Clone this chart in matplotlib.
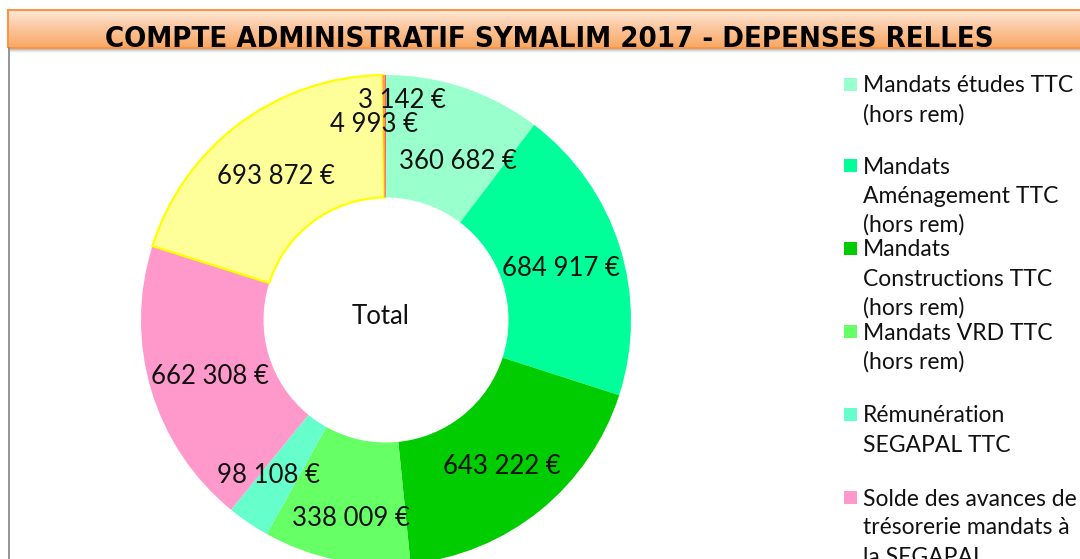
import numpy as np
import matplotlib
matplotlib.use('Agg')
import matplotlib.pyplot as plt
from matplotlib.patches import Rectangle
from matplotlib.colors import LinearSegmentedColormap

# ---------------- data ----------------
values = [360682, 684917, 643222, 338009, 98108, 662308, 693872, 4993, 3142]
colors = ['#99ffcc', '#00ff99', '#00cc00', '#66ff66', '#66ffcc', '#ff99cc',
          '#ffff99', '#ff9966', '#ff6633']
legend_labels = ["Mandats études TTC\n(hors rem)",
                 "Mandats\nAménagement TTC\n(hors rem)",
                 "Mandats\nConstructions TTC\n(hors rem)",
                 "Mandats VRD TTC\n(hors rem)",
                 "Rémunération\nSEGAPAL TTC",
                 "Solde des avances de\ntrésorerie mandats à\nla SEGAPAL"]
title = "COMPTE ADMINISTRATIF SYMALIM 2017 - DEPENSES RELLES"
center_text = "Total"

W, H = 1080, 559
fig = plt.figure(figsize=(W / 100, H / 100), dpi=100)
fig.patch.set_facecolor('white')

def fx(x):
    return x / W

def fy(y):
    return 1 - y / H

# ---------------- left frame line ----------------
fig.add_artist(plt.Line2D([fx(9), fx(9)], [fy(48), fy(H + 5)], color='#8c8c8c', lw=1.3))

# ---------------- title banner ----------------
for i, a in enumerate([0.10, 0.07, 0.05, 0.03]):
    fig.add_artist(Rectangle((fx(10), fy(49 + i + 1)), fx(1100), (i + 1) / H,
                             facecolor='black', alpha=a, edgecolor='none'))
tax = fig.add_axes([fx(8), fy(48), fx(1100), (48 - 10) / H])
grad = np.linspace(0, 1, 100).reshape(-1, 1)
cm = LinearSegmentedColormap.from_list('t', ['#fde9d9', '#fbc49a', '#f9a763'])
tax.imshow(grad, aspect='auto', cmap=cm, extent=[0, 1, 0, 1], origin='upper')
tax.set_xlim(0, 1)
tax.set_ylim(0, 1)
tax.axis('off')
tax.add_patch(Rectangle((0, 0), 1, 1, transform=tax.transAxes, fill=False,
                        edgecolor='#f79646', lw=1.5, clip_on=False))
fig.text(fx(549), fy(39), title, ha='center', va='center', fontsize=21,
         fontweight='bold', fontstretch='condensed',
         family=['DejaVu Sans'], color='black')

# ---------------- donut ----------------
cx, cy, R = 386, 320, 245
half = 255
ax = fig.add_axes([fx(cx - half), fy(cy + half), 2 * half / W, 2 * half / H])

wedges, _ = ax.pie(values, colors=colors, startangle=90, counterclock=False,
                   radius=1.0, wedgeprops=dict(width=0.5, linewidth=0))
wedges[6].set_edgecolor('#ffff00')
wedges[6].set_linewidth(1.6)
ax.set_xlim(-half / R, half / R)
ax.set_ylim(-half / R, half / R)
ax.set_aspect('equal')
ax.axis('off')

total = sum(values)
nudges = {0: (13, 12), 3: (2, 15), 4: (-14, -1), 7: (-10, -16), 8: (16, -40)}
text_drop = 4  # px, visual baseline correction
cum = 0
for i, v in enumerate(values):
    mid = (cum + v / 2) / total
    cum += v
    ang = np.deg2rad(90 - mid * 360)
    x = 0.75 * np.cos(ang)
    y = 0.75 * np.sin(ang)
    dx, dy = nudges.get(i, (0, 0))
    x += dx / R
    y -= (dy + text_drop) / R
    lab = f"{v:,}".replace(",", " ") + " €"
    ax.text(x, y, lab, ha='center', va='center', fontsize=18.5,
            family=['Lato', 'DejaVu Sans'], color='#111111')

ax.text(-5 / R, (7 - text_drop) / R, center_text, ha='center', va='center', fontsize=18.5,
        family=['Lato', 'DejaVu Sans'], color='#111111')

# ---------------- legend ----------------
leg_top = [84, 165, 248, 331, 414, 497]
line_h = 29
for lab, col, top in zip(legend_labels, colors, leg_top):
    fig.add_artist(Rectangle((fx(844), fy(top + 7)), 13 / W, 13 / H,
                             facecolor=col, edgecolor='none'))
    for k, line in enumerate(lab.split('\n')):
        fig.text(fx(863), fy(top + 2 + k * line_h), line, ha='left', va='center',
                 fontsize=16.5, family=['Lato', 'DejaVu Sans'], color='#111111')

fig.savefig('out.png', dpi=100, facecolor='white')
